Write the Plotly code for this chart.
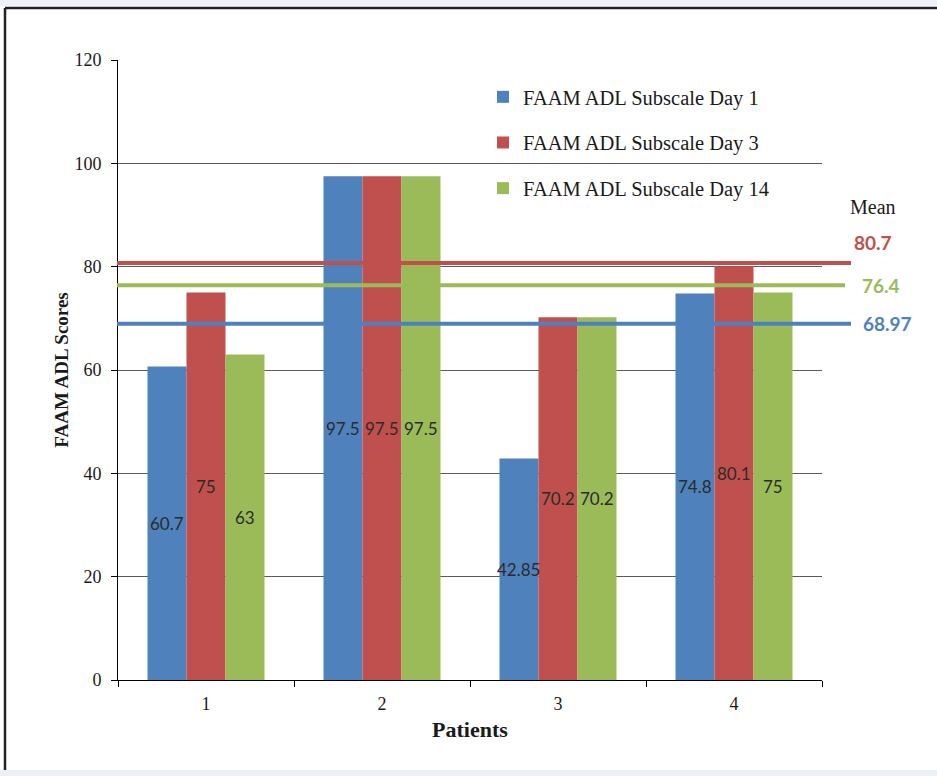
import plotly.graph_objects as go

# FAAM ADL subscale scores per patient
patients = ["1", "2", "3", "4"]
day1 = [60.7, 97.5, 42.85, 74.8]
day3 = [75, 97.5, 70.2, 80.1]
day14 = [63, 97.5, 70.2, 75]
series_names = ["FAAM ADL Subscale Day 1", "FAAM ADL Subscale Day 3", "FAAM ADL Subscale Day 14"]
series_colors = ["#4F81BD", "#C0504D", "#9BBB59"]

# mean scores (red: day 3, green: day 14, blue: day 1)
mean_values = [80.7, 76.4, 68.97]
mean_colors = ["#C0504D", "#9BBB59", "#4F81BD"]
mean_labels = ["80.7", "76.4", "68.97"]

W, H = 937, 776
L, R, T, B = 118, 115, 60, 96
plot_w = W - L - R
plot_h = H - T - B
bargap = 0.335

def px_x(p):
    return (p - L) / plot_w

def px_y(p):
    return (H - B - p) / plot_h

serif = "Liberation Serif"
sans = "Lato"

fig = go.Figure()
all_series = [day1, day3, day14]
for name, vals, col in zip(series_names, all_series, series_colors):
    fig.add_trace(go.Bar(
        x=patients, y=vals, name=name, marker=dict(color=col, line=dict(width=0)),
        legendgroup=name, hoverinfo="x+y",
    ))

# data labels centred in each bar (x given as category index)
bar_px = plot_w / len(patients) * (1 - bargap) / 3
annotations = []
for i, vals in enumerate(all_series):
    for ci, v in enumerate(vals):
        annotations.append(dict(
            x=ci, y=v / 2, xref="x", yref="y", text=f"{v:g}", showarrow=False,
            xanchor="center", xshift=(i - 1) * bar_px,
            font=dict(family=sans, size=17, color="#2b2b2b"),
        ))

# mean lines reaching past the plot edge
line_ends = [851, 845, 851]
shapes = []
for m, col, xe in zip(mean_values, mean_colors, line_ends):
    shapes.append(dict(type="line", xref="paper", yref="y", x0=px_x(117), x1=px_x(xe),
                       y0=m, y1=m, line=dict(color=col, width=4), layer="above"))

label_x = [873, 881, 887]
label_shift = [21, 0, 0]
for m, col, lab, lx, ys in zip(mean_values, mean_colors, mean_labels, label_x, label_shift):
    annotations.append(dict(
        x=px_x(lx), y=m, xref="paper", yref="y", text=f"<b>{lab}</b>", showarrow=False,
        xanchor="center", yanchor="middle", yshift=ys,
        font=dict(family=sans, size=19, color=col),
    ))
annotations.append(dict(x=px_x(873), y=px_y(207), xref="paper", yref="paper", text="Mean",
                        showarrow=False, xanchor="center", yanchor="middle",
                        font=dict(family=serif, size=20, color="#1a1a1a")))

# outer frame and faint edge bands
shapes.append(dict(type="rect", xref="paper", yref="paper", x0=px_x(0), x1=px_x(W),
                   y0=px_y(6), y1=px_y(0), fillcolor="#eef2f8", line=dict(width=0), layer="below"))
shapes.append(dict(type="rect", xref="paper", yref="paper", x0=px_x(0), x1=px_x(W),
                   y0=px_y(H), y1=px_y(770), fillcolor="#edf1f7", line=dict(width=0), layer="below"))
shapes.append(dict(type="line", xref="paper", yref="paper", x0=px_x(5), x1=px_x(W + 5),
                   y0=px_y(8), y1=px_y(8), line=dict(color="#222222", width=2.5)))
shapes.append(dict(type="line", xref="paper", yref="paper", x0=px_x(5), x1=px_x(5),
                   y0=px_y(8), y1=px_y(770), line=dict(color="#222222", width=2.5)))

fig.update_layout(
    width=W, height=H, margin=dict(l=L, r=R, t=T, b=B, autoexpand=False),
    paper_bgcolor="white", plot_bgcolor="white",
    barmode="group", bargap=bargap, bargroupgap=0,
    showlegend=True,
    legend=dict(x=px_x(483), y=px_y(77), xanchor="left", yanchor="top",
                bgcolor="rgba(0,0,0,0)", font=dict(family=serif, size=20.5, color="#1a1a1a"),
                tracegroupgap=16, itemclick=False),
    shapes=shapes, annotations=annotations,
    xaxis=dict(type="category", range=[-0.5, 3.5], showline=True, linecolor="black", linewidth=1,
               ticks="outside", tickson="boundaries", ticklen=6, tickcolor="black",
               ticklabelstandoff=7,
               tickfont=dict(family=serif, size=18, color="#1a1a1a"),
               title=dict(text="<b>Patients</b>", font=dict(family=serif, size=22, color="#1a1a1a"),
                          standoff=9),
               showgrid=False),
    yaxis=dict(range=[0, 120], dtick=20, showline=True, linecolor="black", linewidth=1,
               ticks="outside", ticklen=6, tickcolor="black", ticklabelstandoff=6,
               tickfont=dict(family=serif, size=18, color="#1a1a1a"),
               showgrid=True, gridcolor="#5a5a5a", gridwidth=1, zeroline=False,
               title=dict(text="<b>FAAM ADL Scores</b>", font=dict(family=serif, size=19, color="#1a1a1a"),
                          standoff=0)),
)

fig.write_html("out.html")
